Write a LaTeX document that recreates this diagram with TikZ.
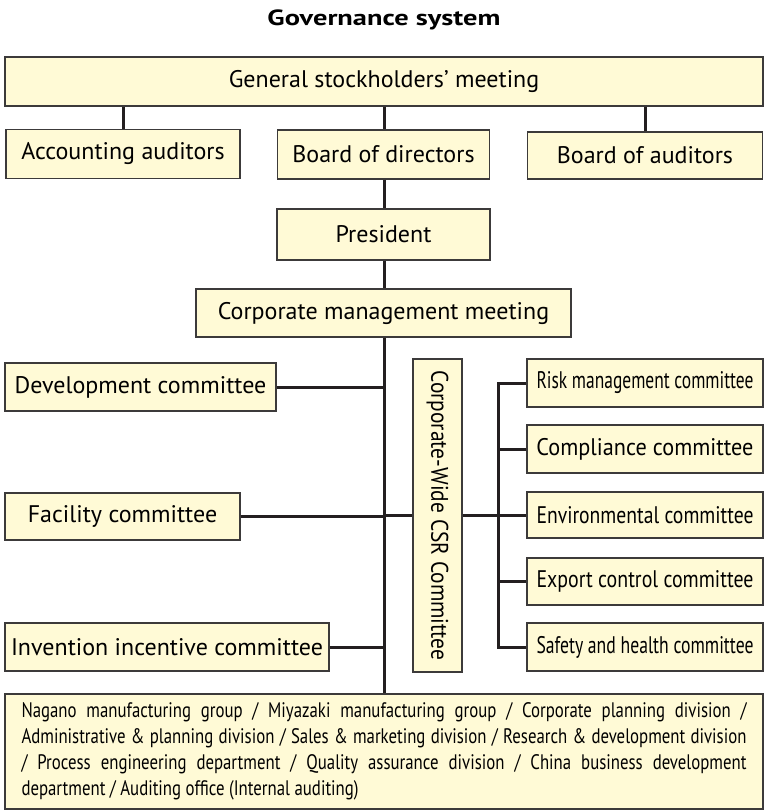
\documentclass[tikz,border=0pt]{standalone}
\usepackage{fontspec}
\usepackage{graphicx}
\setmainfont{PT Sans}
\newfontfamily\narrowfont[FakeStretch=0.80]{PT Sans}
\definecolor{boxfill}{RGB}{255,250,214}
\definecolor{boxline}{RGB}{60,58,58}
\definecolor{linkcol}{RGB}{35,31,32}
\newcommand{\fitright}[1]{\resizebox{217pt}{\height}{#1}}

\begin{document}
\begin{tikzpicture}[%
      x=1pt,y=-1pt,
      box/.style={draw=boxline,fill=boxfill,line width=1.2pt,inner sep=0pt,
        font=\fontsize{24}{28}\selectfont},
      link/.style={draw=linkcol,line width=3pt},
      ]
      \useasboundingbox (0,0) rectangle (767,812);

      \node (title) at (384,20) {\fontsize{22}{24}\selectfont\bfseries
        \resizebox{233pt}{\height}{Governance system}};

      % top level
      \node [box,minimum width=758,minimum height=49] (gsm) at (384,81.5) {General stockholders' meeting};
      \node [box,minimum width=234,minimum height=49] (acc) at (123,154) {Accounting auditors};
      \node [box,minimum width=212,minimum height=49] (bod) at (383.5,154.5) {Board of directors};
      \node [box,minimum width=235,minimum height=47] (boa) at (645,155.5) {Board of auditors};
      \node [box,minimum width=213,minimum height=51] (pres) at (383.5,234.5) {President};
      \node [box,minimum width=375,minimum height=48] (cmm) at (383.5,313) {Corporate management meeting};

      % committees on the left
      \node [box,minimum width=271,minimum height=48] (dev) at (140.5,387) {Development committee};
      \node [box,minimum width=235,minimum height=47] (fac) at (122.5,516.5) {Facility committee};
      \node [box,minimum width=324,minimum height=48] (inv) at (167,647) {Invention incentive committee};

      % CSR committee and its sub-committees
      \node [box,minimum width=49,minimum height=313] (csr) at (437.5,515.5) {};
      \node [rotate=-90,font=\fontsize{24}{28}\selectfont] (csrtext) at (csr.center)
        {\resizebox{290pt}{\height}{Corporate-Wide CSR Committee}};
      \node [box,minimum width=236,minimum height=48] (risk) at (645,383) {\fitright{Risk management committee}};
      \node [box,minimum width=236,minimum height=48] (comp) at (645,449) {\fitright{Compliance committee}};
      \node [box,minimum width=236,minimum height=46] (env) at (645,515) {\fitright{Environmental committee}};
      \node [box,minimum width=236,minimum height=47] (expc) at (645,581.5) {\fitright{Export control committee}};
      \node [box,minimum width=236,minimum height=48] (safe) at (645,647) {\fitright{Safety and health committee}};

      % divisions
      \node [box,minimum width=758,minimum height=115,text width=725,align=justify,
        font=\narrowfont\fontsize{21}{26}\selectfont] (div) at (384,751.5)
        {Nagano manufacturing group / Miyazaki manufacturing group / Corporate planning division /\linebreak
         Administrative \& planning division / Sales \& marketing division / Research \& development division\linebreak
         / Process engineering department / Quality assurance division / China business development\linebreak
         department / Auditing office (Internal auditing)};

      \coordinate (spine) at (384,0);
      \coordinate (bus) at (498,0);

      % connectors
      \draw [link] (acc.north) -- (acc.north |- gsm.south);
      \draw [link] (boa.north) -- (boa.north |- gsm.south);
      \draw [link] (gsm.south -| spine) -- (bod.north -| spine);
      \draw [link] (bod.south -| spine) -- (pres.north -| spine);
      \draw [link] (pres.south -| spine) -- (cmm.north -| spine);
      \draw [link] (cmm.south -| spine) -- (div.north -| spine);
      \draw [link] (dev.east) -- (dev.east -| spine);
      \draw [link] (fac.east) -- (fac.east -| spine);
      \draw [link] (inv.east) -- (inv.east -| spine);
      \draw [link] (csr.west -| spine) -- (csr.west);
      \draw [link] (csr.east) -- (csr.east -| bus);
      \draw [link] (risk.west) -- (risk.west -| bus) -- (safe.west -| bus) -- (safe.west);
      \draw [link] (comp.west) -- (comp.west -| bus);
      \draw [link] (env.west) -- (env.west -| bus);
      \draw [link] (expc.west) -- (expc.west -| bus);
\end{tikzpicture}
\end{document}
